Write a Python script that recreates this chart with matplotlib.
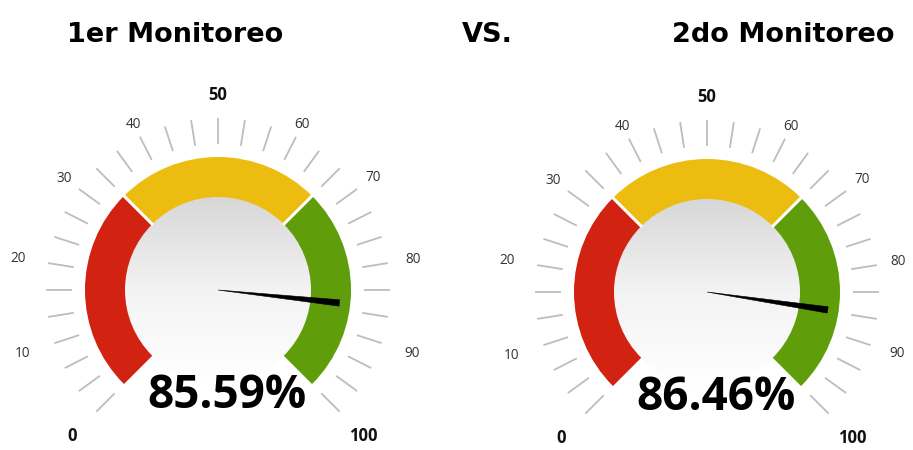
import numpy as np
import matplotlib
matplotlib.use("Agg")
import matplotlib.pyplot as plt
from matplotlib.patches import Wedge, Circle, Polygon
from matplotlib.colors import LinearSegmentedColormap

# ---- data ----
titles = ["1er Monitoreo", "VS.", "2do Monitoreo"]
gauge_values = [85.59, 86.46]
value_labels = ["85.59%", "86.46%"]
band_edges = [0, 100/3, 200/3, 100]
band_colors = ["#d22312", "#ecbd10", "#5f9e0a"]
tick_values = np.linspace(0, 100, 31)
label_values = [0, 10, 20, 30, 40, 50, 60, 70, 80, 90, 100]
bold_labels = [0, 50, 100]

# layout: label distance from gauge centre (px), per label
label_radius = [206, 206, 202, 190, 186, 195, 186, 192, 198, 204, 206]

W, H = 913, 450
fig = plt.figure(figsize=(W/100, H/100), dpi=100)
ax = fig.add_axes([0, 0, 1, 1])
ax.set_xlim(0, W)
ax.set_ylim(0, H)
ax.set_aspect("equal")
ax.axis("off")

def ang(v):
    return 225 - 270 * v / 100.0

centers = [(218, 160), (707, 158)]
grad_cmap = LinearSegmentedColormap.from_list("g", ["#ffffff", "#f3f3f3", "#d7d7d7"])

for gi, ((cx, cy), val, lab) in enumerate(zip(centers, gauge_values, value_labels)):
    R_in, R_out = 93, 133
    # inner gradient disc
    grad = np.linspace(0, 1, 256).reshape(-1, 1)
    im = ax.imshow(grad, cmap=grad_cmap, extent=[cx - R_in - 1, cx + R_in + 1, cy - R_in - 1, cy + R_in + 1],
                   origin="lower", zorder=1, aspect="auto")
    clip = Circle((cx, cy), R_in + 1, transform=ax.transData)
    im.set_clip_path(clip)
    # colour bands
    for i in range(3):
        w = Wedge((cx, cy), R_out, ang(band_edges[i + 1]), ang(band_edges[i]), width=R_out - R_in,
                  facecolor=band_colors[i], edgecolor="none", zorder=2)
        ax.add_patch(w)
    # white separators
    for be in band_edges[1:-1]:
        a = np.deg2rad(ang(be))
        ax.plot([cx + (R_in - 1)*np.cos(a), cx + (R_out + 1)*np.cos(a)],
                [cy + (R_in - 1)*np.sin(a), cy + (R_out + 1)*np.sin(a)],
                color="white", lw=2.2, zorder=3, solid_capstyle="butt")
    # ticks
    for tv in tick_values:
        a = np.deg2rad(ang(tv))
        r1, r2 = 146, 172
        ax.plot([cx + r1*np.cos(a), cx + r2*np.cos(a)], [cy + r1*np.sin(a), cy + r2*np.sin(a)],
                color="#bdbdbd", lw=1.3, zorder=2, solid_capstyle="butt")
    # labels
    for lv, rr in zip(label_values, label_radius):
        a = np.deg2rad(ang(lv))
        r = rr - (4 if (gi == 1 and lv in (80, 90)) else 0)
        x, y = cx + r*np.cos(a), cy + r*np.sin(a)
        if lv in bold_labels:
            ax.text(x, y, str(lv), ha="center", va="center",
                    fontsize=12, fontweight="bold", color="#111111", family="Open Sans")
        else:
            ax.text(x, y, str(lv), ha="center", va="center",
                    fontsize=9.8, color="#333333", family="Open Sans")
    # needle
    a = np.deg2rad(ang(val))
    L = 122
    ux, uy = np.cos(a), np.sin(a)
    px, py = -uy, ux
    tip = (cx + L*ux, cy + L*uy)
    pts = [(cx, cy), (tip[0] + 3.2*px, tip[1] + 3.2*py), (tip[0] - 3.2*px, tip[1] - 3.2*py)]
    ax.add_patch(Polygon(pts, closed=True, facecolor="black", edgecolor="black", lw=0.4, zorder=4))
    # value text
    ax.text(cx + 9, cy - 105, lab, ha="center", va="center", fontsize=33, fontweight="bold",
            color="black", family="Open Sans", zorder=5)

# titles
title_x = [175, 487, 783]
for t, x in zip(titles, title_x):
    ax.text(x, H - 35, t, ha="center", va="center", fontsize=19.5, fontweight="bold",
            color="black", family="DejaVu Sans")

fig.savefig("out.png", dpi=100)
